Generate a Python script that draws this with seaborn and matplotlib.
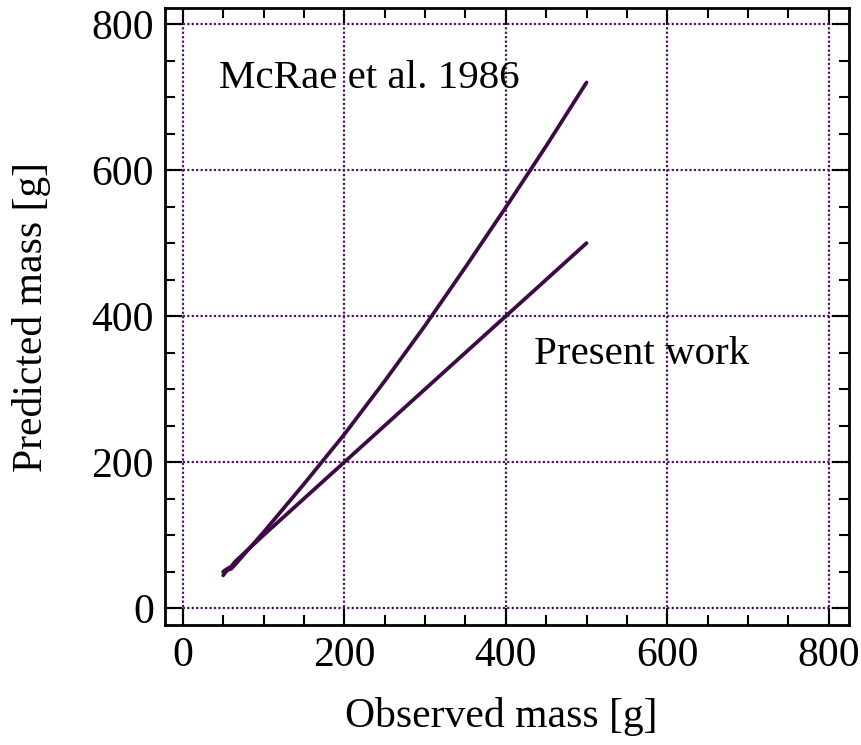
import matplotlib
matplotlib.use("Agg")
import matplotlib.pyplot as plt
from matplotlib.ticker import MultipleLocator
import seaborn as sns
import pandas as pd

# Observed vs. predicted body mass for two allometric relations
observed = [50, 55, 60, 65, 100, 150, 200, 250, 300, 350, 400, 450, 500]
mcrae_1986 = [45, 52, 54, 60, 104, 170, 238, 311, 387, 467, 549, 633, 720]
present_work = [50, 54, 57, 64, 100, 150, 200, 250, 300, 350, 400, 450, 500]

ticks = [0, 200, 400, 600, 800]

sns.set_style("ticks")
plt.rcParams["font.family"] = ["Liberation Serif", "DejaVu Serif"]
plt.rcParams["text.color"] = "black"
plt.rcParams["axes.labelcolor"] = "black"

line_color = "#3e0a46"
grid_color = "#4e1660"

df = pd.concat([
    pd.DataFrame({"observed": observed, "predicted": mcrae_1986, "model": "McRae et al. 1986"}),
    pd.DataFrame({"observed": observed, "predicted": present_work, "model": "Present work"}),
])

fig = plt.figure(figsize=(8.62, 7.45), dpi=100)
ax = fig.add_axes([165 / 862, 1 - 625 / 745, (849 - 165) / 862, (625 - 8) / 745])

sns.lineplot(data=df, x="observed", y="predicted", units="model", estimator=None,
             color=line_color, linewidth=2.7, sort=False, ax=ax)

ax.set_xlim(-22, 825)
ax.set_ylim(-23, 822)
ax.set_xticks(ticks)
ax.set_yticks(ticks)
ax.xaxis.set_minor_locator(MultipleLocator(50))
ax.yaxis.set_minor_locator(MultipleLocator(50))

ax.tick_params(which="both", direction="in", top=True, right=True,
               width=1.5, colors="black", labelsize=30, pad=8)
ax.tick_params(which="major", length=12)
ax.tick_params(which="minor", length=7)

for s in ax.spines.values():
    s.set_linewidth(2.0)
    s.set_color("black")

ax.grid(True, which="major", color=grid_color, linestyle=(0, (1, 1)), linewidth=1.6)
ax.set_axisbelow(True)

ax.set_xlabel("Observed mass [g]", fontsize=30, va="baseline", ha="center")
ax.set_ylabel("Predicted mass [g]", fontsize=30, va="baseline", ha="center",
              rotation=90, rotation_mode="anchor")
ax.xaxis.set_label_coords(0.491, -0.165)
ax.yaxis.set_label_coords(-0.18, 0.50)

ax.text(45, 726, "McRae et al. 1986", fontsize=29.5, va="center", ha="left")
ax.text(435, 347, "Present work", fontsize=29.5, va="center", ha="left")

fig.savefig("out.png", dpi=100)
